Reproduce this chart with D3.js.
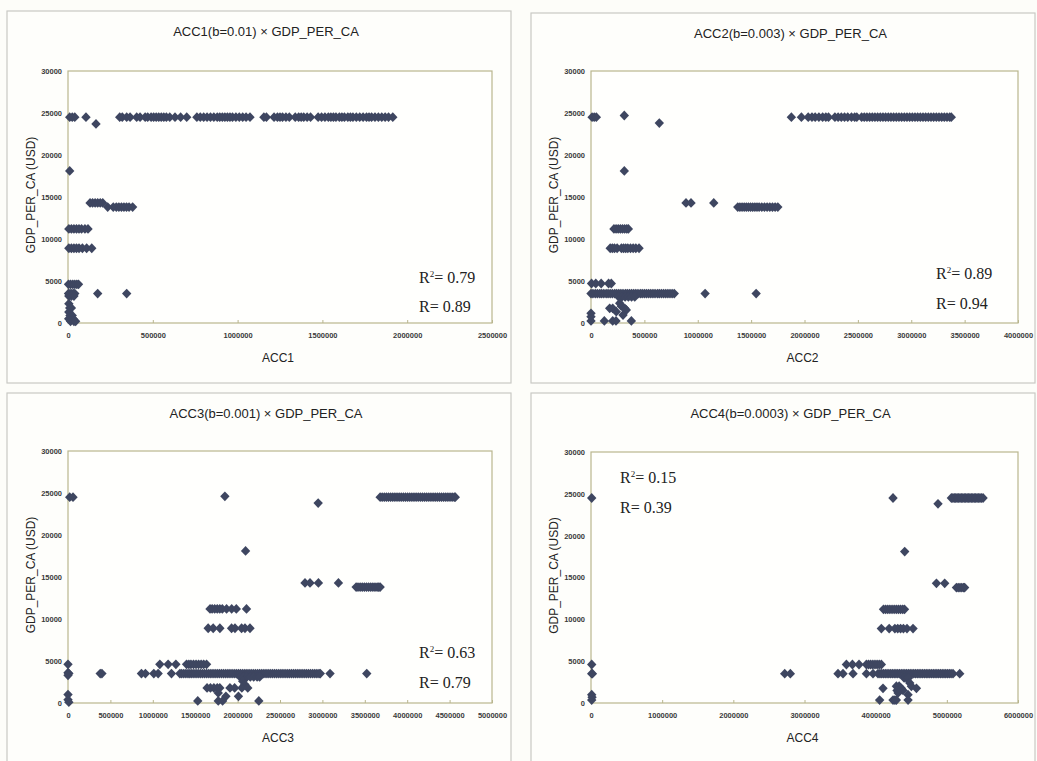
<!DOCTYPE html>
<html>
<head>
<meta charset="utf-8">
<script src="https://cdn.jsdelivr.net/npm/d3@7"></script>
<style>
  body { margin: 0; background: #fdfdf9; }
  svg { display: block; }
</style>
</head>
<body>
<svg id="chart"></svg>
<script>
// x values in thousands, grouped by GDP_PER_CA level (USD)
let acc1 = [
  [24500, [10, 25, 40, 106, 305, 320, 346, 366, 405, 425, 455, 470, 490, 505, 520, 535, 550, 565, 580, 600, 631, 664, 700, 760, 780, 800, 820, 840, 860, 880, 895, 910, 925, 940, 955, 970, 990, 1010, 1030, 1050, 1073, 1155, 1170, 1215, 1235, 1250, 1265, 1285, 1305, 1340, 1360, 1375, 1390, 1410, 1430, 1475, 1495, 1515, 1535, 1550, 1565, 1580, 1600, 1615, 1630, 1650, 1665, 1680, 1700, 1720, 1740, 1760, 1775, 1790, 1810, 1830, 1850, 1870, 1890, 1915]],
  [23700, [165]],
  [18100, [10]],
  [14300, [130, 145, 160, 175, 190, 205]],
  [13800, [234, 267, 285, 300, 315, 330, 345, 360, 381]],
  [11200, [5, 20, 35, 50, 65, 80, 100, 118]],
  [8900, [5, 20, 35, 50, 65, 85, 110, 140]],
  [4600, [3, 15, 28, 40, 52, 62]],
  [3500, [3, 12, 22, 32, 40, 175, 346]],
  [3200, [5, 20, 35]],
  [2300, [5]],
  [1800, [10, 20]],
  [1300, [5]],
  [900, [12, 25]],
  [500, [4, 30]],
  [200, [15, 35, 45]]
]

let acc2 = [
  [24700, [312]],
  [24500, [10, 30, 50, 1877, 1971, 2035, 2070, 2100, 2135, 2170, 2200, 2225, 2285, 2315, 2345, 2375, 2405, 2440, 2470, 2490, 2535, 2560, 2585, 2610, 2635, 2660, 2685, 2710, 2735, 2760, 2785, 2810, 2835, 2860, 2885, 2910, 2935, 2960, 2985, 3010, 3035, 3060, 3085, 3110, 3135, 3160, 3185, 3210, 3235, 3260, 3285, 3310, 3335, 3360, 3375]],
  [23800, [640]],
  [18100, [312]],
  [14300, [890, 937, 1150]],
  [13800, [1375, 1395, 1415, 1435, 1455, 1475, 1495, 1515, 1535, 1555, 1575, 1600, 1625, 1650, 1675, 1700, 1725, 1750]],
  [11200, [215, 235, 255, 275, 295, 315, 335, 350]],
  [8900, [180, 200, 220, 245, 285, 305, 325, 345, 370, 395, 420, 450]],
  [4700, [5, 45, 95, 165, 190]],
  [3500, [0, 18, 40, 60, 82, 100, 120, 142, 160, 180, 200, 222, 240, 260, 280, 300, 322, 340, 360, 380, 400, 420, 440, 462, 480, 500, 520, 540, 560, 580, 600, 622, 640, 660, 680, 700, 720, 740, 760, 780, 1069, 1547]],
  [3100, [260, 290, 320, 350, 380, 410]],
  [2350, [269]],
  [2000, [284]],
  [1750, [175, 203, 316]],
  [1550, [331]],
  [1350, [237]],
  [1150, [0]],
  [950, [300]],
  [750, [0]],
  [250, [0, 125, 203, 234, 378]]
]

let acc3 = [
  [24600, [1850]],
  [24500, [20, 59, 3681, 3705, 3730, 3755, 3780, 3805, 3830, 3855, 3880, 3905, 3930, 3955, 3980, 4005, 4030, 4055, 4080, 4105, 4130, 4155, 4180, 4205, 4230, 4255, 4280, 4305, 4330, 4355, 4380, 4405, 4430, 4455, 4480, 4505, 4530, 4555, 4567]],
  [23800, [2950]],
  [18100, [2094]],
  [14300, [2795, 2854, 2953, 3189]],
  [13800, [3398, 3420, 3445, 3470, 3495, 3520, 3545, 3570, 3595, 3620, 3645, 3665, 3681]],
  [11200, [1675, 1700, 1730, 1760, 1790, 1820, 1870, 1930, 1985, 2105]],
  [8900, [1653, 1712, 1791, 1929, 1969, 2047, 2087, 2146]],
  [4600, [0, 1083, 1181, 1272, 1398, 1425, 1450, 1480, 1510, 1540, 1570, 1600, 1634]],
  [3600, [0]],
  [3500, [10, 380, 400, 866, 913, 1012, 1063, 1220, 1319, 1340, 1365, 1390, 1415, 1437, 1460, 1485, 1510, 1535, 1560, 1585, 1610, 1635, 1660, 1685, 1710, 1735, 1760, 1785, 1810, 1835, 1860, 1885, 1910, 1935, 1960, 1985, 2010, 2035, 2060, 2085, 2110, 2135, 2160, 2185, 2210, 2235, 2260, 2285, 2310, 2335, 2360, 2385, 2410, 2435, 2460, 2485, 2510, 2535, 2560, 2585, 2610, 2635, 2660, 2685, 2710, 2735, 2760, 2785, 2810, 2835, 2860, 2885, 2910, 2935, 2960, 2975, 3090, 3523]],
  [3300, [0]],
  [3100, [2030, 2070, 2110, 2150, 2190, 2230, 2260]],
  [2600, [2060]],
  [2200, [2085]],
  [1800, [1640, 1680, 1720, 1760, 1790, 1910, 1965, 2050, 2120]],
  [1200, [1772]],
  [1000, [0]],
  [800, [1862, 2010]],
  [400, [0]],
  [250, [1530, 1772, 1823, 2250]],
  [100, [10]]
]

let acc4 = [
  [24500, [10, 4244, 5064, 5085, 5105, 5125, 5145, 5165, 5185, 5205, 5225, 5245, 5265, 5285, 5305, 5325, 5345, 5365, 5385, 5405, 5425, 5445, 5465, 5485, 5509]],
  [23800, [4876]],
  [18100, [4408]],
  [14300, [4854, 4970]],
  [13800, [5135, 5160, 5185, 5210, 5235, 5250]],
  [11200, [4110, 4140, 4170, 4200, 4230, 4260, 4290, 4320, 4350, 4380, 4405]],
  [8900, [4080, 4190, 4270, 4310, 4350, 4390, 4440, 4525]],
  [4600, [10, 3589, 3673, 3766, 3870, 3900, 3930, 3960, 3990, 4020, 4050, 4080]],
  [3500, [10, 20, 2722, 2801, 3471, 3541, 3682, 3870, 3963, 4033, 4060, 4085, 4110, 4135, 4160, 4185, 4210, 4235, 4260, 4285, 4310, 4335, 4360, 4385, 4410, 4435, 4460, 4485, 4510, 4535, 4560, 4585, 4610, 4635, 4660, 4685, 4710, 4735, 4760, 4785, 4810, 4835, 4860, 4885, 4910, 4935, 4960, 4985, 5010, 5035, 5060, 5087, 5181]],
  [3000, [4400, 4430, 4460]],
  [2400, [4479]],
  [2000, [4291, 4330, 4502]],
  [1750, [4103, 4360, 4573]],
  [1500, [4300, 4385]],
  [1200, [4315]],
  [1000, [10, 4455]],
  [700, [15]],
  [350, [10, 4056, 4244, 4270, 4291, 4455]]
]

let titles = ['ACC1(b=0.01) \u00d7 GDP_PER_CA', 'ACC2(b=0.003) \u00d7 GDP_PER_CA', 'ACC3(b=0.001) \u00d7 GDP_PER_CA', 'ACC4(b=0.0003) \u00d7 GDP_PER_CA']
let xLabels = ['ACC1', 'ACC2', 'ACC3', 'ACC4']
let xMaxes = [2500000, 4000000, 5000000, 6000000]
let xSteps = [500000, 500000, 500000, 1000000]
let yTicks = [0, 5000, 10000, 15000, 20000, 25000, 30000]
let r2Values = ['0.79', '0.89', '0.63', '0.15']
let rValues = ['0.89', '0.94', '0.79', '0.39']

let width = 1037
let height = 761
let markColor = '#3e4660'

let panels = [
  {data: acc1, box: [7, 11, 511, 383], plot: [68, 71, 492, 323], rPos: [419, 283, 312]},
  {data: acc2, box: [531, 13, 1035, 383], plot: [591, 71, 1018, 323], rPos: [936, 279, 309]},
  {data: acc3, box: [7, 393, 511, 770], plot: [68, 451, 492, 703], rPos: [419, 658, 688]},
  {data: acc4, box: [531, 393, 1035, 770], plot: [591, 452, 1018, 703], rPos: [620, 483, 513]}
]

let svg = d3.select('#chart')
svg.attr('width', width).attr('height', height)

let drawPanel = (p, i) => {
  let [bx0, by0, bx1, by1] = p.box
  let [left, top, right, bottom] = p.plot

  svg.append('rect')
    .attr('x', bx0).attr('y', by0)
    .attr('width', bx1 - bx0).attr('height', by1 - by0)
    .attr('fill', '#fefefb')
    .attr('stroke', '#c9c9c4')
    .attr('stroke-width', 1.2)

  let xScale = d3.scaleLinear().domain([0, xMaxes[i]]).range([left, right])
  let yScale = d3.scaleLinear().domain([0, 30000]).range([bottom, top])

  svg.append('rect')
    .attr('x', left).attr('y', top)
    .attr('width', right - left).attr('height', bottom - top)
    .attr('fill', '#fffffd')
    .attr('stroke', '#b9b68e')
    .attr('stroke-width', 1.2)

  let xAxis = d3.axisBottom(xScale)
    .tickValues(d3.range(0, xMaxes[i] + 1, xSteps[i]))
    .tickFormat(d3.format('d'))
    .tickSizeInner(-3).tickSizeOuter(0).tickPadding(10)
  let yAxis = d3.axisLeft(yScale)
    .tickValues(yTicks)
    .tickFormat(d3.format('d'))
    .tickSize(0).tickPadding(6)

  let gx = svg.append('g')
    .attr('transform', 'translate(0,' + bottom + ')')
    .call(xAxis)
  let gy = svg.append('g')
    .attr('transform', 'translate(' + left + ',0)')
    .call(yAxis)
  ;[gx, gy].forEach(g => {
    g.select('.domain').remove()
    g.selectAll('line').attr('stroke', '#b9b68e')
    g.selectAll('text')
      .attr('font-family', 'Liberation Sans, Arial, sans-serif')
      .attr('font-size', 7.5)
      .attr('font-weight', 'bold')
      .attr('fill', '#3a3a3a')
  })

  let points = []
  p.data.forEach(([gdp, xs]) => xs.forEach(k => points.push([k * 1000, gdp])))

  svg.append('g').selectAll('path')
    .data(points)
    .enter()
    .append('path')
    .attr('d', 'M0,-4.9L4.7,0L0,4.9L-4.7,0Z')
    .attr('transform', d => 'translate(' + xScale(d[0]) + ',' + yScale(d[1]) + ')')
    .attr('fill', markColor)

  let cx = (left + right) / 2 - 16
  svg.append('text')
    .attr('x', cx + 2).attr('y', by0 + 25)
    .attr('text-anchor', 'middle')
    .attr('font-family', 'Liberation Sans, Arial, sans-serif')
    .attr('font-size', 13)
    .attr('fill', '#222')
    .text(titles[i])

  svg.append('text')
    .attr('x', cx + 14).attr('y', bottom + 39)
    .attr('text-anchor', 'middle')
    .attr('font-family', 'Liberation Sans, Arial, sans-serif')
    .attr('font-size', 12)
    .attr('fill', '#222')
    .text(xLabels[i])

  svg.append('text')
    .attr('transform', 'translate(' + (left - 33) + ',' + ((top + bottom) / 2 - 2) + ') rotate(-90)')
    .attr('text-anchor', 'middle')
    .attr('font-family', 'Liberation Sans, Arial, sans-serif')
    .attr('font-size', 12)
    .attr('fill', '#222')
    .text('GDP_PER_CA (USD)')

  let [rx, ry1, ry2] = p.rPos
  let r2 = svg.append('text')
    .attr('x', rx).attr('y', ry1)
    .attr('font-family', 'Liberation Serif, Times New Roman, serif')
    .attr('font-size', 16)
    .attr('fill', '#222')
  r2.append('tspan').text('R')
  r2.append('tspan').attr('dy', -6).attr('font-size', 9).text('2')
  r2.append('tspan').attr('dy', 6).text('= ' + r2Values[i])

  svg.append('text')
    .attr('x', rx).attr('y', ry2)
    .attr('font-family', 'Liberation Serif, Times New Roman, serif')
    .attr('font-size', 16)
    .attr('fill', '#222')
    .text('R= ' + rValues[i])
}

panels.forEach(drawPanel)
</script>
</body>
</html>
